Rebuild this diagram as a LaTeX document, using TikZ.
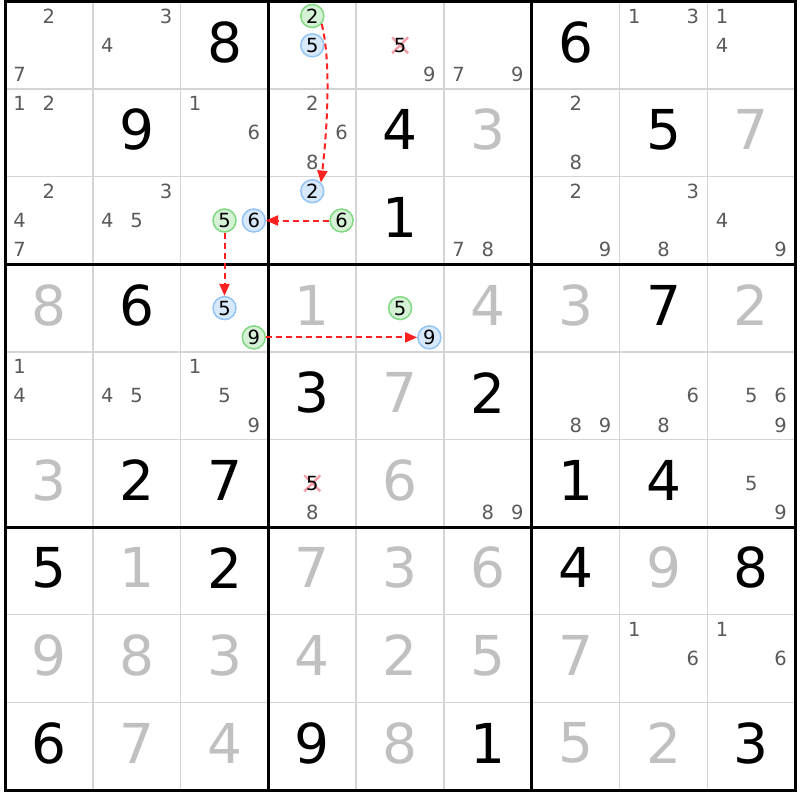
\documentclass[tikz,border=0pt]{standalone}
\usepackage{fontspec}
\setmainfont{DejaVu Sans}
\usetikzlibrary{arrows.meta}
\definecolor{candc}{HTML}{5A5A5A}
\definecolor{solvc}{HTML}{C0C0C0}
\definecolor{thinc}{HTML}{D4D4D4}
\definecolor{linkc}{HTML}{FF2020}
\definecolor{crossc}{HTML}{F4A0A8}
\definecolor{gfill}{HTML}{D6F2D6}
\definecolor{gdraw}{HTML}{80D880}
\definecolor{bfill}{HTML}{D6E8FA}
\definecolor{bdraw}{HTML}{94C4F4}
\newcommand\sdkpos[3]{% row col digit -> \sx \sy
  \pgfmathsetmacro\sx{5+(#2+0.5)*87.8+(mod(#3-1,3)-1)*29.3}%
  \pgfmathsetmacro\sy{1.5+(#1+0.5)*87.6+(floor((#3-1)/3)-1)*29.3}}
\newcommand\sdkcands[3]{%
  \foreach \d in {#3}{%
    \sdkpos{#1}{#2}{\d}%
    \node[cand] (p#1#2\d) at (\sx,\sy) {\d};}}
\newcommand\sdkgiv[4]{%
  \pgfmathsetmacro\sx{5+(#2+0.5)*87.8}%
  \pgfmathsetmacro\sy{1.5+(#1+0.5)*87.6-3}%
  \node[#4] (g#1#2) at (\sx,\sy) {#3};}
\newcommand\sdkhl[5]{%
  \sdkpos{#1}{#2}{#3}%
  \node[#4] (#5) at (\sx,\sy) {#3};}
\newcommand\sdkcross[3]{%
  \sdkpos{#1}{#2}{#3}%
  \draw[xmark] (\sx-8,\sy-8) -- (\sx+8,\sy+8) (\sx-8,\sy+8) -- (\sx+8,\sy-8);
  \node[candk] (x#1#2#3) at (\sx,\sy) {#3};}
\begin{document}
\begin{tikzpicture}[x=1pt,y=-1pt,
  cand/.style={font=\fontsize{19.5}{19.5}\selectfont, text=candc, inner sep=0pt},
  candk/.style={font=\fontsize{19.5}{19.5}\selectfont, text=black, inner sep=0pt},
  bigk/.style={font=\fontsize{55}{55}\selectfont, text=black, inner sep=0pt},
  bigg/.style={font=\fontsize{55}{55}\selectfont, text=solvc, inner sep=0pt},
  hlg/.style={circle, minimum size=23pt, inner sep=0pt, fill=gfill, draw=gdraw, line width=1.5pt, font=\fontsize{19.5}{19.5}\selectfont},
  hlb/.style={circle, minimum size=23pt, inner sep=0pt, fill=bfill, draw=bdraw, line width=1.5pt, font=\fontsize{19.5}{19.5}\selectfont},
  xmark/.style={draw=crossc, line width=2.4pt},
  link/.style={draw=linkc, line width=2pt, dash pattern=on 6pt off 4pt, -{Triangle[length=12pt,width=10pt]}},
  thinline/.style={draw=thinc, line width=1.5pt},
  thickline/.style={draw=black, line width=3pt}]
\useasboundingbox[fill=white] (0,0) rectangle (800,800);
% grid
\foreach \i in {1,2,4,5,7,8}{
  \draw[thinline] ({5+\i*87.8},1.5) -- ({5+\i*87.8},790);
  \draw[thinline] (5,{1.5+\i*87.6}) -- (795.5,{1.5+\i*87.6});}
\foreach \i in {3,6}{
  \draw[thickline] ({5+\i*87.8},1.5) -- ({5+\i*87.8},790);
  \draw[thickline] (5,{1.5+\i*87.6}) -- (795.5,{1.5+\i*87.6});}
\draw[thickline] (5,1.5) rectangle (795.5,790);
% givens
\foreach \r/\c/\v in {0/2/8,0/6/6,1/1/9,1/4/4,1/7/5,2/4/1,3/1/6,3/7/7,4/3/3,4/5/2,5/1/2,5/2/7,5/6/1,5/7/4,6/0/5,6/2/2,6/6/4,6/8/8,8/0/6,8/3/9,8/5/1,8/8/3}{
  \sdkgiv{\r}{\c}{\v}{bigk}}
\foreach \r/\c/\v in {1/5/3,1/8/7,3/0/8,3/3/1,3/5/4,3/6/3,3/8/2,4/4/7,5/0/3,5/4/6,6/1/1,6/3/7,6/4/3,6/5/6,6/7/9,7/0/9,7/1/8,7/2/3,7/3/4,7/4/2,7/5/5,7/6/7,8/1/7,8/2/4,8/4/8,8/6/5,8/7/2}{
  \sdkgiv{\r}{\c}{\v}{bigg}}
% candidates
\sdkcands{0}{0}{2,7}
\sdkcands{0}{1}{3,4}
\sdkcands{0}{4}{9}
\sdkcands{0}{5}{7,9}
\sdkcands{0}{7}{1,3}
\sdkcands{0}{8}{1,4}
\sdkcands{1}{0}{1,2}
\sdkcands{1}{2}{1,6}
\sdkcands{1}{3}{2,6,8}
\sdkcands{1}{6}{2,8}
\sdkcands{2}{0}{2,4,7}
\sdkcands{2}{1}{3,4,5}
\sdkcands{2}{5}{7,8}
\sdkcands{2}{6}{2,9}
\sdkcands{2}{7}{3,8}
\sdkcands{2}{8}{4,9}
\sdkcands{4}{0}{1,4}
\sdkcands{4}{1}{4,5}
\sdkcands{4}{2}{1,5,9}
\sdkcands{4}{6}{8,9}
\sdkcands{4}{7}{6,8}
\sdkcands{4}{8}{5,6,9}
\sdkcands{5}{3}{8}
\sdkcands{5}{5}{8,9}
\sdkcands{5}{8}{5,9}
\sdkcands{7}{7}{1,6}
\sdkcands{7}{8}{1,6}
% crossed candidates
\sdkcross{0}{4}{5}
\sdkcross{5}{3}{5}
% highlighted candidates
\sdkhl{0}{3}{2}{hlg}{ha}
\sdkhl{0}{3}{5}{hlb}{hb}
\sdkhl{2}{3}{2}{hlb}{hc}
\sdkhl{2}{3}{6}{hlg}{hd}
\sdkhl{2}{2}{6}{hlb}{he}
\sdkhl{2}{2}{5}{hlg}{hf}
\sdkhl{3}{2}{5}{hlb}{hg}
\sdkhl{3}{2}{9}{hlg}{hh}
\sdkhl{3}{4}{5}{hlg}{hi}
\sdkhl{3}{4}{9}{hlb}{hj}
% links
\draw[link] (ha.-40) .. controls +(9,35) and +(7,-60) .. (hc.45);
\draw[link] (hd.west) -- (he.east);
\draw[link] (hf.south) -- (hg.north);
\draw[link] (hh.east) -- (hj.west);
\end{tikzpicture}
\end{document}
